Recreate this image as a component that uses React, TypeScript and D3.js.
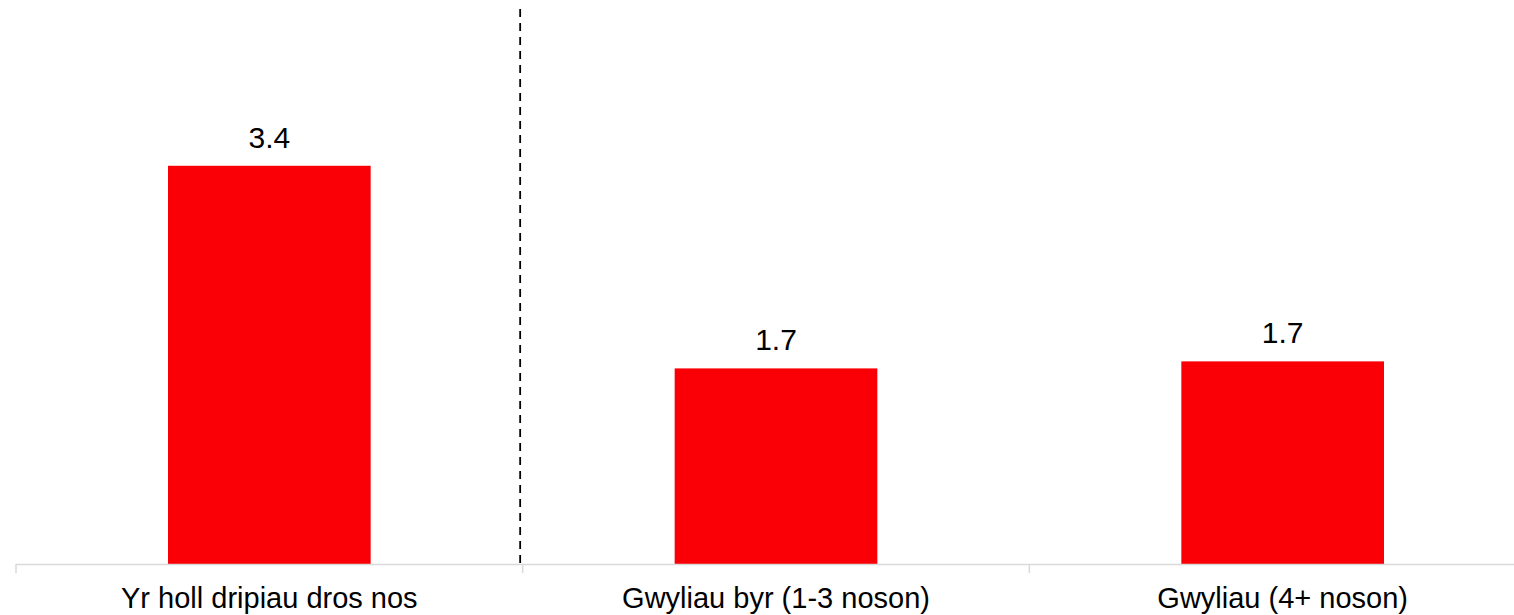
import React from "react";
import * as d3 from "d3";

const categories: string[] = ["Yr holl dripiau dros nos", "Gwyliau byr (1-3 noson)", "Gwyliau (4+ noson)"];
const values: number[] = [3.4, 1.67, 1.73];
const valueLabels: string[] = ["3.4", "1.7", "1.7"];

const W = 1514;
const H = 615;

export default function App() {
  const x = d3.scaleBand<string>().domain(categories).range([16, 1536]).paddingInner(0.6).paddingOuter(0.3);
  const y = d3.scaleLinear().domain([0, 4.73]).range([564, 10]);
  const step = x.step();
  const boundaries = d3.range(categories.length + 1).map((i) => 16 + i * step);
  const dividerX = boundaries[1] - 2.5;
  const font = "Arial, 'Liberation Sans', sans-serif";
  return (
    <svg width={W} height={H} style={{ position: "absolute", left: 0, top: 0, background: "#fff" }}>
      {categories.map((c, i) => (
        <rect key={c} x={x(c)} y={y(values[i])} width={x.bandwidth()} height={y(0) - y(values[i])} fill="#fa0006" />
      ))}
      <line x1={16} x2={1536} y1={y(0) + 0.5} y2={y(0) + 0.5} stroke="#d9d9d9" strokeWidth={1.5} />
      {boundaries.map((b, i) => (
        <line key={i} x1={b} x2={b} y1={y(0)} y2={y(0) + 9} stroke="#d9d9d9" strokeWidth={1.5} />
      ))}
      <line x1={dividerX} x2={dividerX} y1={9} y2={y(0)} stroke="#000" strokeWidth={1.8} strokeDasharray="8 6" />
      {categories.map((c, i) => (
        <text key={"v" + c} x={(x(c) as number) + x.bandwidth() / 2} y={y(values[i]) - 18} textAnchor="middle" fontFamily={font} fontSize={30} fill="#000">
          {valueLabels[i]}
        </text>
      ))}
      {categories.map((c) => (
        <text key={"c" + c} x={(x(c) as number) + x.bandwidth() / 2} y={608} textAnchor="middle" fontFamily={font} fontSize={29} fill="#000">
          {c}
        </text>
      ))}
    </svg>
  );
}
